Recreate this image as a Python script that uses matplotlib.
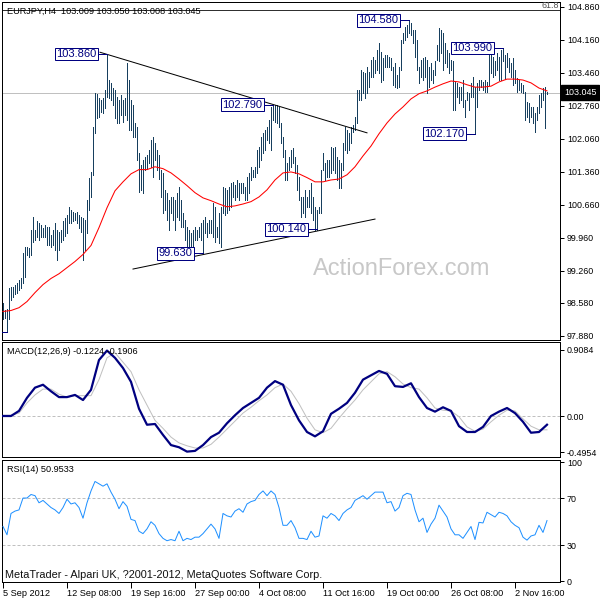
import numpy as np
import matplotlib
matplotlib.use("Agg")
import matplotlib.pyplot as plt

plt.rcParams['font.family'] = ['Liberation Sans', 'DejaVu Sans']

# ---------------- data ----------------
highs = [
    98.59, 98.44, 98.46, 98.90, 98.92, 98.92, 98.97, 99.01, 99.07, 99.11,
    99.65, 99.77, 99.77, 99.75, 100.13, 100.41, 100.13, 100.31, 100.28, 100.24,
    100.18, 100.24, 100.20, 100.20, 100.03, 100.13, 100.28, 100.13, 100.09, 100.13,
    100.31, 100.39, 100.45, 100.62, 100.56, 100.52, 100.49, 100.52, 100.45, 100.41,
    100.39, 100.35, 100.77, 101.23, 101.36, 102.32, 103.04, 103.01, 102.93, 102.89,
    102.93, 103.10, 103.86, 103.31, 103.25, 103.14, 103.10, 102.95, 102.89, 102.99,
    102.89, 102.93, 103.67, 103.31, 102.89, 102.78, 102.40, 102.32, 101.77, 101.51,
    101.62, 101.68, 101.72, 101.83, 102.04, 102.10, 101.98, 101.83, 101.72, 101.41,
    101.34, 100.98, 100.92, 100.77, 100.83, 100.83, 100.77, 100.92, 101.05, 100.77,
    100.49, 100.35, 100.20, 100.13, 100.07, 100.13, 100.20, 100.13, 100.20, 100.28,
    100.35, 100.41, 100.28, 100.35, 100.35, 100.71, 100.62, 100.20, 100.49, 100.62,
    101.05, 101.03, 100.98, 101.05, 101.13, 101.15, 101.09, 101.19, 101.13, 101.13,
    101.13, 101.05, 101.26, 101.34, 101.47, 101.41, 101.47, 101.83, 101.89, 102.10,
    102.19, 102.25, 102.32, 102.47, 102.74, 102.79, 102.78, 102.78, 102.74, 102.40,
    102.10, 101.83, 101.55, 101.68, 101.83, 101.87, 101.68, 101.51, 101.26, 100.83,
    100.83, 100.98, 100.83, 100.98, 101.13, 100.83, 100.62, 100.56, 100.62, 101.41,
    101.77, 101.55, 101.62, 101.62, 101.89, 101.87, 101.89, 101.68, 101.62, 101.55,
    101.98, 102.32, 102.25, 102.19, 102.32, 102.36, 102.53, 103.10, 103.10, 103.52,
    103.48, 103.46, 103.59, 103.48, 103.73, 103.80, 103.73, 103.95, 104.10, 103.91,
    103.78, 103.84, 103.84, 103.80, 103.78, 103.59, 103.67, 103.42, 103.59, 104.16,
    104.31, 104.44, 104.48, 104.58, 104.52, 104.37, 104.37, 104.16, 103.59, 103.73,
    103.78, 103.80, 103.73, 103.59, 103.67, 103.52, 103.71, 104.05, 104.41, 104.37,
    104.31, 104.10, 103.95, 103.88, 103.73, 103.71, 103.27, 103.25, 103.16, 103.16,
    103.31, 102.89, 103.06, 103.04, 103.25, 103.38, 103.16, 103.25, 103.31, 103.31,
    103.27, 103.31, 103.27, 103.84, 103.95, 103.80, 103.71, 103.88, 103.80, 103.95,
    103.99, 103.84, 103.88, 103.78, 103.67, 103.78, 103.52, 103.35, 103.31, 103.25,
    103.21, 103.06, 102.85, 102.82, 102.74, 102.74, 102.61, 102.74, 102.99, 103.04,
    103.14, 103.16, 103.05,
]
lows = [
    98.23, 98.27, 97.97, 98.23, 98.65, 98.71, 98.76, 98.80, 98.86, 98.90,
    99.01, 99.14, 99.60, 99.56, 99.60, 99.88, 99.92, 99.97, 99.92, 99.99,
    99.97, 99.99, 99.82, 99.82, 99.77, 99.82, 99.71, 99.50, 99.71, 99.88,
    99.92, 100.01, 100.07, 100.28, 100.28, 100.31, 100.35, 100.28, 100.18, 100.09,
    99.50, 99.71, 100.07, 100.56, 100.83, 101.30, 102.19, 102.51, 102.53, 102.63,
    102.61, 102.72, 102.95, 102.93, 102.89, 102.78, 102.51, 102.40, 102.40, 102.57,
    102.42, 102.57, 102.47, 102.25, 102.25, 102.10, 102.10, 101.62, 100.94, 100.98,
    100.92, 101.41, 101.43, 101.55, 101.47, 101.26, 101.62, 101.41, 101.21, 100.83,
    100.49, 100.56, 100.35, 100.13, 100.49, 100.35, 100.13, 100.41, 100.35, 100.20,
    100.20, 99.92, 99.77, 99.77, 99.71, 99.71, 99.92, 99.92, 99.99, 99.92,
    99.63, 100.07, 99.99, 100.07, 100.07, 99.99, 99.88, 99.99, 99.86, 99.77,
    100.49, 100.45, 100.49, 100.56, 100.62, 100.83, 100.77, 100.83, 100.77, 100.92,
    100.92, 100.77, 100.77, 100.92, 101.19, 101.26, 101.26, 101.34, 101.47, 101.62,
    101.77, 101.83, 102.04, 101.98, 101.83, 102.47, 102.42, 102.40, 102.32, 101.98,
    101.68, 101.19, 101.19, 101.41, 101.47, 101.55, 101.34, 100.98, 100.77, 100.41,
    100.49, 100.41, 100.62, 100.62, 100.49, 100.35, 100.13, 100.13, 100.49, 100.49,
    101.41, 101.19, 101.26, 101.26, 101.34, 101.41, 101.34, 101.19, 101.03, 101.03,
    101.41, 101.83, 101.77, 101.83, 101.98, 102.21, 102.25, 102.40, 102.89, 102.89,
    103.04, 102.93, 103.04, 103.16, 103.38, 103.38, 103.46, 103.52, 103.46, 103.27,
    103.31, 103.59, 103.59, 103.59, 103.52, 103.21, 103.16, 103.14, 103.16, 103.52,
    104.10, 104.16, 104.22, 104.31, 104.27, 104.10, 103.80, 103.52, 103.25, 103.38,
    103.31, 103.38, 103.04, 103.16, 103.31, 103.25, 103.42, 103.73, 103.71, 103.88,
    103.52, 103.67, 103.59, 103.46, 103.52, 102.68, 102.68, 102.95, 102.82, 102.89,
    102.74, 102.53, 102.89, 102.68, 102.95, 102.95, 102.17, 102.74, 103.10, 103.16,
    103.10, 103.06, 103.06, 103.21, 103.46, 103.38, 103.42, 103.52, 103.31, 103.31,
    103.71, 103.33, 103.59, 103.48, 103.38, 103.21, 103.25, 103.06, 103.10, 103.06,
    103.04, 102.47, 102.53, 102.42, 102.53, 102.40, 102.21, 102.47, 102.61, 102.74,
    102.89, 102.30, 103.01,
]

# moving average, MACD and signal, read every 4th bar
ma_values = [
    98.40, 98.42, 98.48, 98.61, 98.80, 98.97, 99.10, 99.20, 99.33, 99.46,
    99.61, 99.80, 100.18, 100.60, 100.96, 101.15, 101.32, 101.41, 101.41, 101.47,
    101.43, 101.34, 101.21, 101.07, 100.92, 100.81, 100.75, 100.68, 100.62, 100.64,
    100.68, 100.73, 100.83, 100.98, 101.19, 101.34, 101.36, 101.32, 101.24, 101.15,
    101.15, 101.19, 101.21, 101.30, 101.47, 101.70, 101.91, 102.17, 102.40, 102.59,
    102.74, 102.91, 103.02, 103.08, 103.16, 103.23, 103.29, 103.27, 103.21, 103.16,
    103.16, 103.18, 103.27, 103.33, 103.33, 103.31, 103.25, 103.14, 103.08,
]
macd_main = [
    0.00, 0.00, 0.07, 0.25, 0.39, 0.43, 0.34, 0.26, 0.26, 0.29,
    0.22, 0.36, 0.77, 0.90, 0.80, 0.66, 0.47, 0.10, -0.12, -0.11,
    -0.26, -0.40, -0.43, -0.49, -0.48, -0.40, -0.29, -0.23, -0.10, 0.01,
    0.11, 0.18, 0.25, 0.39, 0.48, 0.43, 0.15, -0.06, -0.22, -0.28,
    -0.21, 0.03, 0.10, 0.18, 0.32, 0.50, 0.56, 0.62, 0.58, 0.41,
    0.40, 0.45, 0.26, 0.11, 0.06, 0.12, 0.07, -0.14, -0.22, -0.22,
    -0.15, 0.00, 0.06, 0.11, 0.04, -0.08, -0.23, -0.22, -0.12,
]
macd_signal = [
    0.01, 0.01, 0.04, 0.18, 0.29, 0.37, 0.37, 0.30, 0.26, 0.28,
    0.28, 0.28, 0.50, 0.80, 0.87, 0.74, 0.61, 0.36, 0.15, -0.06,
    -0.17, -0.29, -0.37, -0.41, -0.44, -0.44, -0.39, -0.29, -0.18, -0.07,
    0.04, 0.12, 0.21, 0.29, 0.39, 0.44, 0.34, 0.17, -0.03, -0.19,
    -0.23, -0.17, -0.03, 0.10, 0.22, 0.36, 0.47, 0.58, 0.61, 0.54,
    0.44, 0.39, 0.37, 0.25, 0.11, 0.08, 0.07, -0.01, -0.15, -0.21,
    -0.18, -0.08, 0.01, 0.08, 0.07, -0.04, -0.14, -0.19, -0.19,
]
# RSI read every 2nd bar
rsi_values = [
    46, 39, 57, 59, 60, 70, 70, 73, 72, 66,
    68, 65, 62, 60, 57, 62, 69, 65, 66, 62,
    53, 66, 76, 84, 82, 80, 82, 75, 69, 61,
    67, 63, 52, 51, 42, 40, 44, 50, 47, 40,
    36, 34, 35, 34, 42, 34, 36, 35, 37, 37,
    40, 44, 48, 44, 36, 57, 55, 54, 59, 61,
    58, 65, 67, 68, 73, 76, 72, 76, 73, 62,
    47, 47, 51, 45, 36, 36, 35, 42, 37, 38,
    55, 53, 57, 55, 51, 57, 60, 62, 68, 70,
    72, 69, 72, 75, 75, 75, 66, 67, 59, 62,
    72, 74, 73, 60, 50, 53, 41, 48, 53, 64,
    59, 54, 44, 39, 39, 36, 41, 46, 35, 49.5,
    49, 58, 56, 54, 58, 57, 55, 50, 47, 45,
    37, 34.5, 38, 39, 47, 41, 51,
]

# labelled highs / lows: (text, bar index, price)
level_labels = [
    ("103.860", 52, 103.86),
    ("102.790", 135, 102.79),
    ("104.580", 203, 104.58),
    ("103.990", 250, 103.99),
    ("102.170", 236, 102.17),
    ("99.630", 100, 99.63),
    ("100.140", 157, 100.14),
]
# connector of a label whose box lies left of the visible window
offscreen_label = (2, 97.97)
# trend lines: (bar index, price) end points
trend_upper = ([48.5, 182], [103.90, 102.19])
trend_lower = ([65, 186], [99.30, 100.36])
fib_level = 104.80

price_ticks = [104.86, 104.16, 103.46, 102.76, 102.06, 101.36, 100.66,
               99.96, 99.26, 98.58, 97.88]
macd_ticks = [0.9084, 0.0, -0.4954]
macd_tick_labels = ["0.9084", "0.00", "-0.4954"]
rsi_ticks = [100, 70, 30, 0]
date_tick_bars = [0, 32, 64, 96, 128, 160, 192, 224, 256]
date_tick_labels = ["5 Sep 2012", "12 Sep 08:00", "19 Sep 16:00",
                    "27 Sep 00:00", "4 Oct 08:00", "11 Oct 16:00",
                    "19 Oct 00:00", "26 Oct 08:00", "2 Nov 16:00"]
last_price = 103.045
title_text = "EURJPY,H4  103.009 103.050 103.008 103.045"
macd_text = "MACD(12,26,9) -0.1224 -0.1906"
rsi_text = "RSI(14) 50.9533"
footer_text = "MetaTrader - Alpari UK, ?2001-2012, MetaQuotes Software Corp."
watermark = "ActionForex.com"

# ---------------- styling ----------------
W = H = 600
BAR = '#173f5e'
NAVY = '#000080'
SILVER = '#c0c0c0'
LW1 = 0.72  # one pixel

fig = plt.figure(figsize=(6, 6), dpi=100)
fig.patch.set_facecolor('white')


def px_axes(x0, y0, x1, y1):
    return fig.add_axes([x0 / W, 1 - y1 / H, (x1 - x0) / W, (y1 - y0) / H])


ax1 = px_axes(2, 2, 560, 339.5)
ax2 = px_axes(2, 342, 560, 457)
ax3 = px_axes(2, 459.5, 560, 582)

n = len(highs)
bars = np.arange(n)
ind_bars = np.arange(0, n, 4)
rsi_bars = np.arange(0, n, 2)

for ax in (ax1, ax2, ax3):
    ax.set_xlim(-0.5, 278.5)
    ax.set_facecolor('white')
    for s in ax.spines.values():
        s.set_color('black')
        s.set_linewidth(LW1)
    ax.yaxis.tick_right()
    ax.tick_params(axis='y', which='both', direction='out', length=3,
                   width=LW1, pad=2, labelsize=6.4, colors='black')
    ax.tick_params(axis='x', which='both', bottom=False, labelbottom=False)

# ---- price panel ----
ax1.set_ylim(97.805, 104.966)
ax1.axhline(last_price, color=SILVER, lw=LW1, zorder=1)
ax1.axhline(fib_level, color='#303030', lw=LW1, zorder=1)
ax1.vlines(bars, lows, highs, colors=BAR, linewidth=0.6,
           antialiased=False, zorder=3)
ax1.plot(ind_bars, ma_values, color='#ff0000', lw=0.75, zorder=4)
ax1.plot(trend_upper[0], trend_upper[1], color='black', lw=LW1, zorder=4)
ax1.plot(trend_lower[0], trend_lower[1], color='black', lw=LW1, zorder=4)

for txt, bi, pr in level_labels:
    x_box = bi - 4.5
    ax1.plot([x_box, bi], [pr, pr], color=NAVY, lw=LW1, zorder=5)
    ax1.text(x_box - 0.9, pr, txt, ha='right', va='center', fontsize=8,
             color=NAVY, zorder=6, clip_on=True,
             bbox=dict(boxstyle='square,pad=0.12', fc='white', ec=NAVY,
                       lw=LW1))
ob, op = offscreen_label
ax1.plot([ob - 4.5, ob], [op, op], color=NAVY, lw=LW1, zorder=5)

ax1.set_yticks(price_ticks)
ax1.set_yticklabels([f"{v:.3f}" for v in price_ticks])
ax1.annotate(f"{last_price:.3f}", xy=(1.0, last_price),
             xycoords=ax1.get_yaxis_transform(), xytext=(4, 0),
             textcoords='offset pixels', ha='left', va='center',
             fontsize=6.4, color='white', annotation_clip=False,
             bbox=dict(boxstyle='square,pad=0.3', fc='black', ec='black'))
ax1.text(0.998, fib_level, "61.8", transform=ax1.get_yaxis_transform(),
         ha='right', va='bottom', fontsize=6.4, color='#505050',
         clip_on=True)

fig.text(7 / W, 1 - 11 / H, title_text, ha='left', va='center',
         fontsize=6.6, color='black')
fig.text(402 / W, 1 - 269 / H, watermark, ha='center', va='center',
         fontsize=17, color='#c8c8c8')

# ---- MACD panel ----
ax2.set_ylim(-0.564, 1.018)
ax2.axhline(0, color=SILVER, lw=LW1, ls=(0, (3, 2)), zorder=1)
ax2.plot(ind_bars, macd_signal, color=SILVER, lw=LW1, zorder=2)
ax2.plot(ind_bars, macd_main, color=NAVY, lw=1.6, zorder=3)
ax2.set_yticks(macd_ticks)
ax2.set_yticklabels(macd_tick_labels)
fig.text(7 / W, 1 - 352 / H, macd_text, ha='left', va='center',
         fontsize=6.6, color='black')

# ---- RSI panel ----
ax3.set_ylim(-0.8, 102.5)
for lvl in (70, 30):
    ax3.axhline(lvl, color=SILVER, lw=LW1, ls=(0, (3, 2)), zorder=1)
ax3.plot(rsi_bars, rsi_values, color='#1e90ff', lw=LW1, zorder=3)
ax3.set_yticks(rsi_ticks)
ax3.set_yticklabels([str(v) for v in rsi_ticks])
fig.text(7 / W, 1 - 469.5 / H, rsi_text, ha='left', va='center',
         fontsize=6.6, color='black')
fig.text(5 / W, 1 - 575.5 / H, footer_text, ha='left', va='center',
         fontsize=7.8, color='#101010')

ax3.tick_params(axis='x', bottom=True, labelbottom=True, direction='out',
                length=4, width=LW1, pad=1, labelsize=6.6, colors='black')
ax3.set_xticks(date_tick_bars)
ax3.set_xticklabels(date_tick_labels)
for lbl in ax3.get_xticklabels():
    lbl.set_ha('left')

fig.savefig('out.png', dpi=100, facecolor='white')
